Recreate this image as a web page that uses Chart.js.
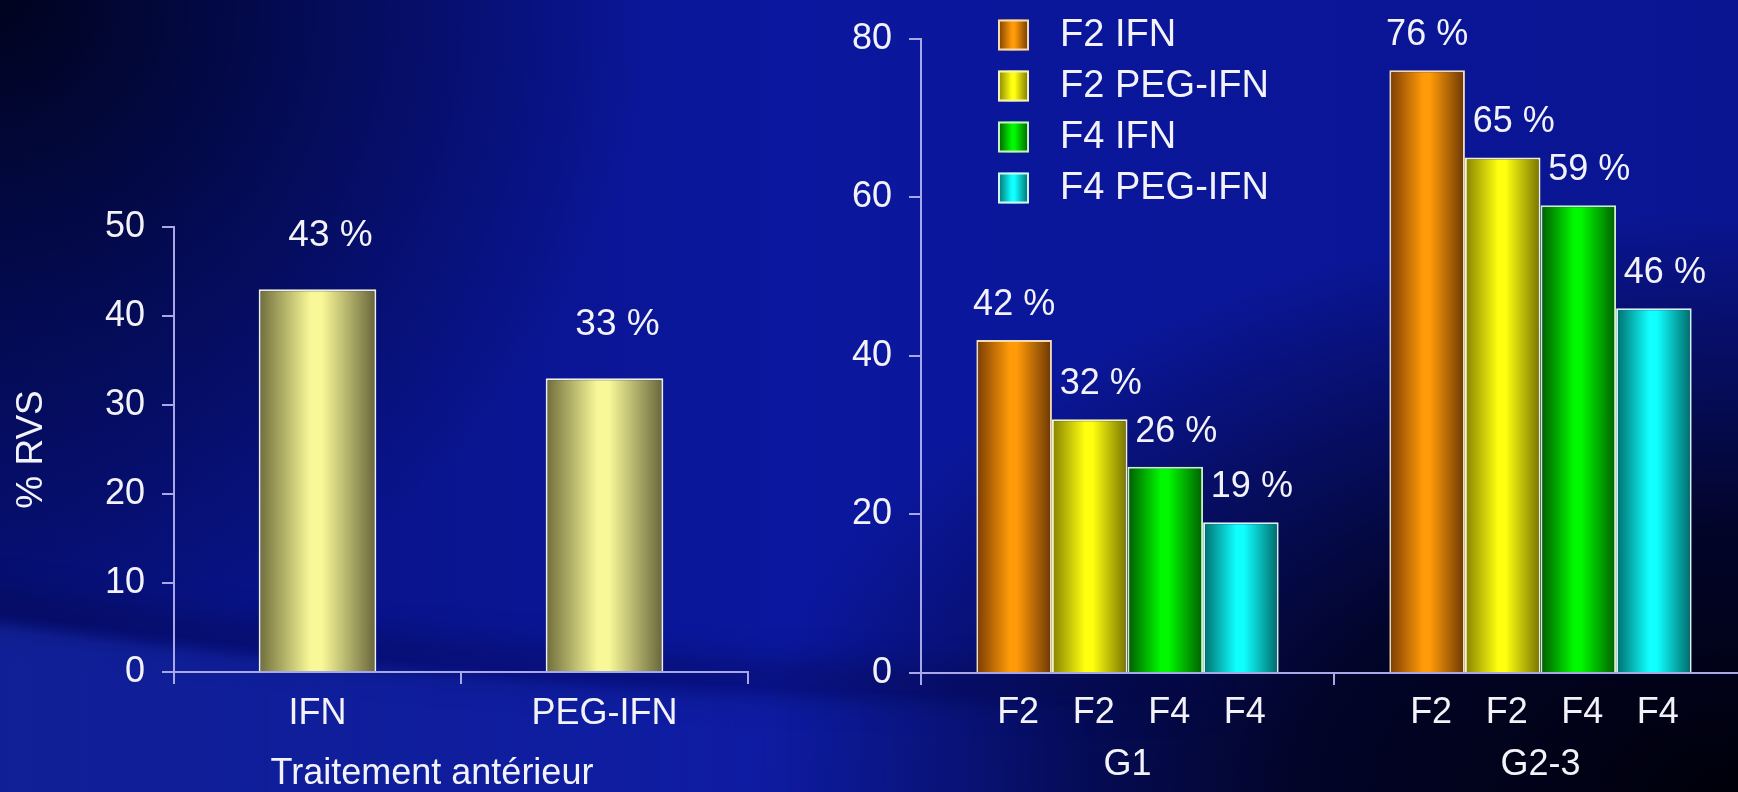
<!DOCTYPE html>
<html>
<head>
<meta charset="utf-8">
<script src="https://cdn.jsdelivr.net/npm/chart.js@4.4.1/dist/chart.umd.min.js"></script>
<style>
  html, body { margin: 0; padding: 0; background: #0a1696; }
  body { width: 1738px; height: 792px; overflow: hidden; position: relative; }
  canvas { position: absolute; top: 0; }
  #backdrop { left: 0; }
  #left  { left: 0; }
  #right { left: 820px; }
</style>
</head>
<body>
<canvas id="backdrop" width="1738" height="792"></canvas>
<canvas id="left" width="800" height="792"></canvas>
<canvas id="right" width="940" height="792"></canvas>
<script>
// ---- data ----
const priorCategories = ['IFN', 'PEG-IFN'];
const priorValues = [43, 33];
const priorTicks = [0, 10, 20, 30, 40, 50];

const genotypeCategories = ['G1', 'G2-3'];
const seriesNames = ['F2 IFN', 'F2 PEG-IFN', 'F4 IFN', 'F4 PEG-IFN'];
const f2Ifn    = [42, 76];
const f2PegIfn = [32, 65];
const f4Ifn    = [26, 59];
const f4PegIfn = [19, 46];
const fibrosisLabels = ['F2', 'F2', 'F4', 'F4'];
const genotypeTicks = [0, 20, 40, 60, 80];

// ---- slide backdrop ----
(function paintBackdrop() {
  const c = document.getElementById('backdrop');
  const g = c.getContext('2d');
  const W = c.width, H = c.height;

  let lg = g.createLinearGradient(0, 0, W, 0);
  lg.addColorStop(0, '#07117c');
  lg.addColorStop(0.45, '#0b179e');
  lg.addColorStop(1, '#0a1592');
  g.fillStyle = lg;
  g.fillRect(0, 0, W, H);

  // dark top-left corner
  let rg = g.createRadialGradient(0, 0, 0, 0, 0, 650);
  rg.addColorStop(0, 'rgba(0,3,26,0.97)');
  rg.addColorStop(0.5, 'rgba(0,4,40,0.5)');
  rg.addColorStop(1, 'rgba(0,4,40,0)');
  g.fillStyle = rg;
  g.fillRect(0, 0, W, H);

  // dark bottom-right corner
  g.save();
  g.translate(W, H);
  g.scale(1.7, 1);
  rg = g.createRadialGradient(0, 0, 0, 0, 0, 580);
  rg.addColorStop(0, 'rgba(0,0,10,1)');
  rg.addColorStop(0.45, 'rgba(0,0,14,0.8)');
  rg.addColorStop(1, 'rgba(0,0,14,0)');
  g.fillStyle = rg;
  g.fillRect(-W, -H, W, H);
  g.restore();

  // soft shadow riding above the swoosh
  g.save();
  g.filter = 'blur(16px)';
  g.strokeStyle = 'rgba(2,6,60,0.4)';
  g.lineWidth = 30;
  g.beginPath();
  g.moveTo(-20, 604);
  g.quadraticCurveTo(560, 688, 1200, 688);
  g.stroke();
  g.restore();

  // lighter swoosh in the lower-left
  g.save();
  g.filter = 'blur(6px)';
  lg = g.createLinearGradient(0, 0, 1100, 0);
  lg.addColorStop(0, 'rgba(34,58,196,0.36)');
  lg.addColorStop(0.55, 'rgba(30,52,190,0.26)');
  lg.addColorStop(1, 'rgba(30,52,190,0)');
  g.fillStyle = lg;
  g.beginPath();
  g.moveTo(-10, 622);
  g.quadraticCurveTo(560, 706, 1200, 706);
  g.lineTo(1200, H + 20);
  g.lineTo(-10, H + 20);
  g.closePath();
  g.fill();
  g.restore();
})();

// ---- styling ----
const FONT = '"Liberation Sans", Arial, Helvetica, sans-serif';
const TEXT = '#f2f2f8';
const AXIS = '#a8a8e8';
Chart.defaults.font.family = FONT;
Chart.defaults.color = TEXT;

// dark edge / bright core / dark edge, giving each bar a cylindrical look
const shades = {
  pale:   ['#6e6c3a', '#f8f898', '#66643a'],
  orange: ['#7a3c02', '#ff9a08', '#6a3604'],
  yellow: ['#858200', '#ffff10', '#767200'],
  green:  ['#005a00', '#00f800', '#005e00'],
  cyan:   ['#006c6c', '#10ffff', '#006868']
};
const seriesShades = ['orange', 'yellow', 'green', 'cyan'];
const seriesBorders = ['#f2dcb4', '#f4f2c0', '#c8f0c0', '#d4f4f4'];

function shadeGradient(ctx, x0, x1, key) {
  const [a, b, c] = shades[key];
  const g = ctx.createLinearGradient(x0, 0, x1, 0);
  g.addColorStop(0, a);
  g.addColorStop(0.44, b);
  g.addColorStop(0.54, b);
  g.addColorStop(1, c);
  return g;
}

// paints every bar with a horizontal gradient once its geometry is known
const barShade = {
  id: 'barShade',
  beforeDatasetsDraw(chart) {
    const ctx = chart.ctx;
    chart.data.datasets.forEach((ds, di) => {
      chart.getDatasetMeta(di).data.forEach(el => {
        const { x, width } = el.getProps(['x', 'width'], true);
        el.options.backgroundColor = shadeGradient(ctx, x - width / 2, x + width / 2, ds.shade);
      });
    });
  }
};

// "NN %" captions above bars
const valueCaptions = {
  id: 'valueCaptions',
  afterDatasetsDraw(chart, args, opts) {
    const ctx = chart.ctx;
    ctx.save();
    ctx.font = `${opts.size}px ${FONT}`;
    ctx.fillStyle = TEXT;
    ctx.textAlign = 'center';
    ctx.textBaseline = 'middle';
    chart.data.datasets.forEach((ds, di) => {
      const dx = typeof opts.dx === 'function' ? opts.dx(di) : opts.dx;
      chart.getDatasetMeta(di).data.forEach((el, i) => {
        ctx.fillText(ds.data[i] + ' %', el.x + dx, el.y - opts.lift);
      });
    });
    ctx.restore();
  }
};

// per-bar fibrosis stage under the axis
const barSubLabels = {
  id: 'barSubLabels',
  afterDraw(chart, args, opts) {
    if (!opts.labels) return;
    const ctx = chart.ctx;
    ctx.save();
    ctx.font = `${opts.size}px ${FONT}`;
    ctx.fillStyle = TEXT;
    ctx.textAlign = 'center';
    ctx.textBaseline = 'middle';
    const y = chart.chartArea.bottom + opts.offset;
    chart.data.datasets.forEach((ds, di) => {
      chart.getDatasetMeta(di).data.forEach(el => {
        ctx.fillText(opts.labels[di], el.x + 4, y);
      });
    });
    ctx.restore();
  }
};

// caption under the category axis
const axisCaption = {
  id: 'axisCaption',
  afterDraw(chart, args, opts) {
    if (!opts.text) return;
    const ctx = chart.ctx;
    const xs = chart.scales.x;
    ctx.save();
    ctx.font = `${opts.size}px ${FONT}`;
    ctx.fillStyle = TEXT;
    ctx.textAlign = 'center';
    ctx.textBaseline = 'middle';
    ctx.fillText(opts.text, (xs.left + xs.right) / 2 + opts.shift, chart.chartArea.bottom + opts.offset);
    ctx.restore();
  }
};

// boxed legend inside the plot
const boxLegend = {
  id: 'boxLegend',
  afterDraw(chart, args, opts) {
    if (!opts.show) return;
    const ctx = chart.ctx;
    const x0 = chart.chartArea.left + opts.left;
    ctx.save();
    ctx.font = `${opts.size}px ${FONT}`;
    ctx.textAlign = 'left';
    ctx.textBaseline = 'middle';
    chart.data.datasets.forEach((ds, di) => {
      const cy = opts.top + di * opts.gap;
      const s = opts.box;
      ctx.fillStyle = shadeGradient(ctx, x0, x0 + s, ds.shade);
      ctx.fillRect(x0, cy - s / 2, s, s);
      ctx.lineWidth = 2;
      ctx.strokeStyle = ds.borderColor;
      ctx.strokeRect(x0 + 1, cy - s / 2 + 1, s - 2, s - 2);
      ctx.fillStyle = TEXT;
      ctx.fillText(ds.label, x0 + s + opts.textGap, cy + 1);
    });
    ctx.restore();
  }
};

function axisCommon() {
  return {
    border: { display: true, color: AXIS, width: 2 },
    grid: { display: true, drawOnChartArea: false, drawTicks: true, tickLength: 12, color: AXIS, lineWidth: 2 }
  };
}

// ---- left: SVR by prior treatment ----
new Chart(document.getElementById('left'), {
  type: 'bar',
  data: {
    labels: priorCategories,
    datasets: [{
      label: '% RVS',
      data: priorValues,
      shade: 'pale',
      backgroundColor: () => shades.pale[1],
      borderColor: '#f0f0e0',
      borderWidth: 2,
      barPercentage: 0.41,
      categoryPercentage: 1
    }]
  },
  options: {
    responsive: false,
    animation: false,
    events: [],
    layout: { padding: { left: 0, top: 227, right: 52, bottom: 0 } },
    plugins: {
      legend: { display: false },
      tooltip: { enabled: false },
      valueCaptions: { size: 37, dx: 13, lift: 54 },
      axisCaption: { text: 'Traitement antérieur', size: 36, shift: -29, offset: 102 },
      barSubLabels: {},
      boxLegend: {}
    },
    scales: {
      x: {
        ...axisCommon(),
        ticks: { font: { size: 36 }, color: TEXT, padding: 8 },
        afterFit: s => { s.height = 120; }
      },
      y: {
        ...axisCommon(),
        min: 0, max: 50,
        afterBuildTicks: s => { s.ticks = priorTicks.map(v => ({ value: v })); },
        ticks: { font: { size: 36 }, color: TEXT, padding: 17 },
        title: { display: true, text: '% RVS', font: { size: 37 }, color: TEXT, padding: { top: 10, bottom: 0 } },
        afterFit: s => { s.width = 174; }
      }
    }
  },
  plugins: [barShade, valueCaptions, axisCaption, barSubLabels, boxLegend]
});

// ---- right: SVR by genotype, fibrosis stage and prior treatment ----
const seriesValues = [f2Ifn, f2PegIfn, f4Ifn, f4PegIfn];
new Chart(document.getElementById('right'), {
  type: 'bar',
  data: {
    labels: genotypeCategories,
    datasets: seriesNames.map((name, i) => ({
      label: name,
      data: seriesValues[i],
      shade: seriesShades[i],
      backgroundColor: () => shades[seriesShades[i]][1],
      borderColor: seriesBorders[i],
      borderWidth: 2,
      barPercentage: 1,
      categoryPercentage: 0.732
    }))
  },
  options: {
    responsive: false,
    animation: false,
    events: [],
    layout: { padding: { left: 0, top: 37, right: 13, bottom: 0 } },
    plugins: {
      legend: { display: false },
      tooltip: { enabled: false },
      valueCaptions: { size: 36, dx: di => (di === 0 ? 0 : 11), lift: 35 },
      barSubLabels: { labels: fibrosisLabels, size: 36, offset: 40 },
      boxLegend: { show: true, left: 77, top: 35, gap: 51, box: 31, textGap: 31, size: 38 },
      axisCaption: {}
    },
    scales: {
      x: {
        ...axisCommon(),
        ticks: { font: { size: 36 }, color: TEXT, padding: 58 },
        afterFit: s => { s.height = 119; }
      },
      y: {
        ...axisCommon(),
        min: 0, max: 80,
        afterBuildTicks: s => { s.ticks = genotypeTicks.map(v => ({ value: v })); },
        ticks: { font: { size: 36 }, color: TEXT, padding: 17 },
        afterFit: s => { s.width = 101; }
      }
    }
  },
  plugins: [barShade, valueCaptions, barSubLabels, boxLegend, axisCaption]
});
</script>
</body>
</html>
